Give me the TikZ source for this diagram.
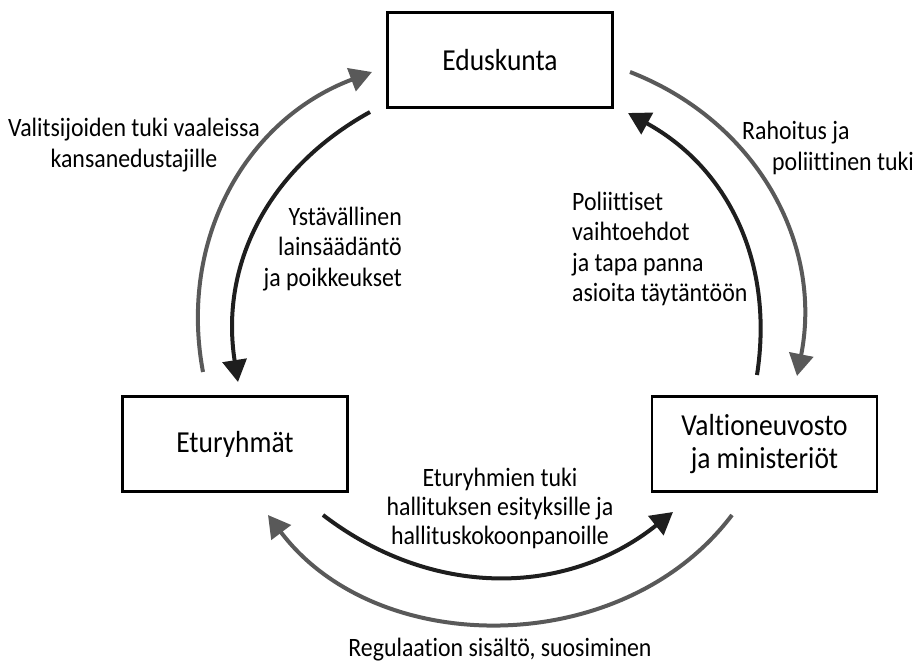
\documentclass[tikz,border=0pt]{standalone}
\usepackage{fontspec}
\setmainfont{Carlito}[FakeStretch=0.9,Ligatures=NoCommon]
\usetikzlibrary{arrows.meta}
\definecolor{arrgray}{HTML}{595959}
\definecolor{arrblack}{HTML}{1E1E1E}
\begin{document}
\begin{tikzpicture}[x=1pt,y=1pt,
  box/.style={draw=black,line width=2.5pt,minimum width=225pt,minimum height=95pt,inner sep=0pt,align=center,font=\fontsize{30.5}{33}\selectfont},
  lbl/.style={inner sep=0pt,font=\fontsize{26.5}{30.5}\selectfont},
  garrow/.style={draw=arrgray,line width=4pt,-{Triangle[length=22pt,width=24pt]}},
  barrow/.style={draw=arrblack,line width=4pt,-{Triangle[length=22pt,width=24pt]}}]
\useasboundingbox (0,0) rectangle (922,670);
\node[box] (edu) at (500,610) {Eduskunta};
\node[box] (etu) at (235,226) {Eturyhmät};
\node[box] (val) at (764.5,226) {Valtioneuvosto\\ja ministeriöt};
\coordinate (gl1) at (203,298); \coordinate (gl2) at (372,598);
\coordinate (bl1) at (370,558); \coordinate (bl2) at (238,288);
\coordinate (br1) at (757,295); \coordinate (br2) at (628,557);
\coordinate (gr1) at (630,598); \coordinate (gr2) at (797,294);
\coordinate (bb1) at (323,155); \coordinate (bb2) at (673,158);
\coordinate (gb1) at (732,155); \coordinate (gb2) at (268,155);
\draw[garrow] (gl1) to[bend left=40] (gl2);
\draw[barrow] (bl1) to[bend right=35] (bl2);
\draw[barrow] (br1) to[bend right=35] (br2);
\draw[garrow] (gr1) to[bend left=40] (gr2);
\draw[barrow] (bb1) to[bend right=38] (bb2);
\draw[garrow] (gb1) to[bend left=53] (gb2);
\node[lbl,align=center] (l1) at (134,525) {Valitsijoiden tuki vaaleissa\\kansanedustajille};
\node[lbl,align=left,anchor=west] (l2) at (742,522) {Rahoitus ja\\\hspace*{30pt}poliittinen tuki};
\node[lbl,align=right,anchor=east] (l3) at (402,421) {Ystävällinen\\lainsäädäntö\\ja poikkeukset};
\node[lbl,align=left,anchor=west] (l4) at (572,421) {Poliittiset\\vaihtoehdot\\ja tapa panna\\asioita täytäntöön};
\node[lbl,align=center,font=\fontsize{26.5}{29}\selectfont] (l5) at (500,162) {Eturyhmien tuki\\hallituksen esityksille ja\\hallituskokoonpanoille};
\node[lbl,anchor=base] (l6) at (500,13) {Regulaation sisältö, suosiminen};
\end{tikzpicture}
\end{document}
